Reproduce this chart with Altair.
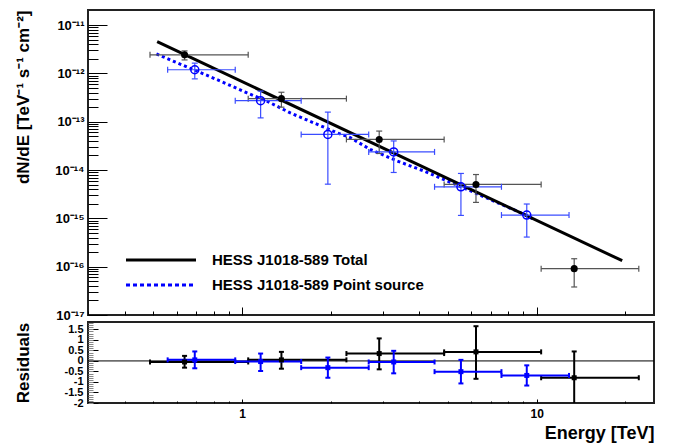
import json
import altair as alt
import pandas as pd

# HESS J1018-589 total: flux points (black)
e_tot = [0.638, 1.36, 2.92, 6.22, 13.4]
e_tot_lo = [0.487, 1.049, 2.26, 4.85, 10.35]
e_tot_hi = [1.049, 2.26, 4.85, 10.35, 22.2]
f_tot = [2.42e-12, 3.0e-13, 4.3e-14, 5.03e-15, 9.1e-17]
f_tot_lo = [1.9e-12, 2.0e-13, 2.2e-14, 2.14e-15, 3.8e-17]
f_tot_hi = [2.92e-12, 4.07e-13, 6.4e-14, 8.07e-15, 1.46e-16]
r_tot = [-0.05, 0.05, 0.35, 0.43, -0.80]
r_tot_lo = [-0.32, -0.37, -0.40, -0.85, -2.1]
r_tot_hi = [0.24, 0.43, 1.07, 1.65, 0.45]

# HESS J1018-589 point source: flux points (blue)
e_ps = [0.691, 1.156, 1.955, 3.27, 5.53, 9.25]
e_ps_lo = [0.559, 0.948, 1.587, 2.69, 4.50, 7.59]
e_ps_hi = [0.948, 1.587, 2.69, 4.50, 7.59, 12.87]
f_ps = [1.19e-12, 2.73e-13, 5.46e-14, 2.37e-14, 4.5e-15, 1.17e-15]
f_ps_lo = [7.7e-13, 1.2e-13, 5.1e-15, 8.9e-15, 1.15e-15, 4.1e-16]
f_ps_hi = [1.63e-12, 4.3e-13, 1.58e-13, 4.0e-14, 8.5e-15, 1.98e-15]
r_ps = [0.05, -0.03, -0.32, -0.05, -0.51, -0.69]
r_ps_lo = [-0.35, -0.48, -0.80, -0.59, -1.07, -1.17]
r_ps_hi = [0.45, 0.35, 0.16, 0.48, 0.05, -0.21]

# fitted spectra
fit_tot_e = [0.515, 19.5]
fit_tot_f = [4.55e-12, 1.33e-16]
fit_ps_e = [0.512, 0.586, 0.761, 0.889, 1.04, 1.215, 1.458, 1.748, 2.10, 2.33,
            2.72, 3.35, 4.13, 4.95, 5.94, 7.32, 9.01, 9.74]
fit_ps_f = [2.53e-12, 1.77e-12, 9.1e-13, 6.03e-13, 3.94e-13, 2.66e-13, 1.52e-13,
            9.5e-14, 5.9e-14, 4.67e-14, 2.68e-14, 1.55e-14, 9.6e-15, 6.0e-15,
            3.73e-15, 2.14e-15, 1.23e-15, 9.7e-16]

legend_labels = ["HESS J1018-589 Total", "HESS J1018-589 Point source"]

# axis ticks
x_major = [1, 10]
x_minor = [0.3, 0.4, 0.5, 0.6, 0.7, 0.8, 0.9, 2, 3, 4, 5, 6, 7, 8, 9, 20]
y_major = [1e-17, 1e-16, 1e-15, 1e-14, 1e-13, 1e-12, 1e-11]
y_major_labels = ["10⁻¹⁷", "10⁻¹⁶", "10⁻¹⁵", "10⁻¹⁴", "10⁻¹³", "10⁻¹²", "10⁻¹¹"]
y_minor = [m * d for d in y_major[:-1] for m in range(2, 10)]
r_major = [-2, -1.5, -1, -0.5, 0, 0.5, 1, 1.5]
r_minor = [round(-2 + 0.1 * i, 1) for i in range(39)]

BLUE = "#0000ff"
BLUE_ERR = "#3a4cff"
GREY = "#555555"
FONT = "Liberation Sans"

tot = pd.DataFrame({"e": e_tot, "elo": e_tot_lo, "ehi": e_tot_hi,
                    "f": f_tot, "flo": f_tot_lo, "fhi": f_tot_hi,
                    "r": r_tot, "rlo": r_tot_lo, "rhi": r_tot_hi})
ps = pd.DataFrame({"e": e_ps, "elo": e_ps_lo, "ehi": e_ps_hi,
                   "f": f_ps, "flo": f_ps_lo, "fhi": f_ps_hi,
                   "r": r_ps, "rlo": r_ps_lo, "rhi": r_ps_hi})
fit_tot = pd.DataFrame({"e": fit_tot_e, "f": fit_tot_f})
fit_ps = pd.DataFrame({"e": fit_ps_e, "f": fit_ps_f})

xs = alt.Scale(type="log", domain=[0.3, 25], nice=False)
ys = alt.Scale(type="log", domain=[1e-17, 2.05e-11], nice=False)
rs = alt.Scale(domain=[-2, 1.85], nice=False, zero=False)


def inner_axis(values, size, orient, color="black", **kw):
    # ROOT style: ticks inside the frame, so shift the axis in by the tick length
    return alt.Axis(values=values, tickSize=size, offset=-size, orient=orient,
                    domain=False, grid=False, tickColor=color,
                    labelOverlap=False, labelFlush=False, labelBound=False, **kw)


def error_bars(df, y, ylo, yhi, yscale, color, width, cap, clip=False):
    base = alt.Chart(df)
    X = lambda f: alt.X(f, scale=xs, axis=None)
    Y = lambda f: alt.Y(f, scale=yscale, axis=None)
    rule = dict(color=color, strokeWidth=width, clip=clip)
    tick = dict(color=color, size=cap, thickness=width, clip=clip, opacity=1)
    return [
        base.mark_rule(**rule).encode(x=X("elo:Q"), x2="ehi:Q", y=Y(y)),
        base.mark_rule(**rule).encode(x=X("e:Q"), y=Y(ylo), y2=yhi),
        base.mark_tick(orient="vertical", **tick).encode(x=X("elo:Q"), y=Y(y)),
        base.mark_tick(orient="vertical", **tick).encode(x=X("ehi:Q"), y=Y(y)),
        base.mark_tick(orient="horizontal", **tick).encode(x=X("e:Q"), y=Y(ylo)),
        base.mark_tick(orient="horizontal", **tick).encode(x=X("e:Q"), y=Y(yhi)),
    ]


# ---- spectrum panel ----
line_ps = alt.Chart(fit_ps).mark_line(color=BLUE, strokeWidth=3, strokeDash=[3, 3]).encode(
    x=alt.X("e:Q", scale=xs, axis=None), y=alt.Y("f:Q", scale=ys, axis=None))
line_tot = alt.Chart(fit_tot).mark_line(color="black", strokeWidth=3).encode(
    x=alt.X("e:Q", scale=xs, axis=None), y=alt.Y("f:Q", scale=ys, axis=None))
pts_tot = alt.Chart(tot).mark_point(shape="circle", filled=True, size=50, color="black", opacity=1).encode(
    x=alt.X("e:Q", scale=xs, axis=None), y=alt.Y("f:Q", scale=ys, axis=None))
pts_ps = alt.Chart(ps).mark_point(shape="circle", filled=False, size=64, color=BLUE, strokeWidth=1.5, opacity=1).encode(
    x=alt.X("e:Q", scale=xs, axis=None), y=alt.Y("f:Q", scale=ys, axis=None))

label_expr = "%s[round(log(datum.value)/LN10)+17]" % json.dumps(y_major_labels, ensure_ascii=False)
top_major = alt.Chart(tot).mark_point(opacity=0).encode(
    x=alt.X("e:Q", scale=xs, title=None, axis=inner_axis(x_major, 8, "bottom", labels=False)),
    y=alt.Y("f:Q", scale=ys, title="dN/dE [TeV⁻¹ s⁻¹ cm⁻²]",
            axis=inner_axis(y_major, 19, "left", labelExpr=label_expr, labelPadding=4,
                            labelFontSize=13, titleAnchor="end", titleFontSize=17, titlePadding=22)))
top_minor = alt.Chart(tot).mark_point(opacity=0).encode(
    x=alt.X("e:Q", scale=xs, title=None, axis=inner_axis(x_minor, 4, "bottom", labels=False)),
    y=alt.Y("f:Q", scale=ys, title=None, axis=inner_axis(y_minor, 10, "left", labels=False)))

one = pd.DataFrame({"label": legend_labels[:1]})
two = pd.DataFrame({"label": legend_labels[1:]})
leg = [
    alt.Chart(one).mark_rule(color="black", strokeWidth=3).encode(
        x=alt.value(38), x2=alt.value(108), y=alt.value(250)),
    alt.Chart(two).mark_rule(color=BLUE, strokeWidth=3, strokeDash=[4, 3]).encode(
        x=alt.value(38), x2=alt.value(108), y=alt.value(275)),
    alt.Chart(one).mark_text(align="left", baseline="middle", font=FONT, fontSize=15, fontWeight="bold").encode(
        x=alt.value(124), y=alt.value(250), text="label:N"),
    alt.Chart(two).mark_text(align="left", baseline="middle", font=FONT, fontSize=15, fontWeight="bold").encode(
        x=alt.value(124), y=alt.value(275), text="label:N"),
]

top = alt.layer(
    line_ps, line_tot,
    *error_bars(tot, "f:Q", "flo:Q", "fhi:Q", ys, GREY, 1.2, 6),
    *error_bars(ps, "f:Q", "flo:Q", "fhi:Q", ys, BLUE_ERR, 1.2, 6),
    pts_tot, pts_ps, top_major, top_minor, *leg
).resolve_axis(x="independent", y="independent").properties(width=566, height=305)

# ---- residual panel ----
zero = alt.Chart(one).mark_rule(color="black", strokeWidth=1).encode(
    y=alt.Y(datum=0, scale=rs, axis=None))
res_tot = alt.Chart(tot).mark_point(shape="square", filled=True, size=25, color="black", opacity=1).encode(
    x=alt.X("e:Q", scale=xs, axis=None), y=alt.Y("r:Q", scale=rs, axis=None))
res_ps = alt.Chart(ps).mark_point(shape="square", filled=True, size=25, color=BLUE, opacity=1).encode(
    x=alt.X("e:Q", scale=xs, axis=None), y=alt.Y("r:Q", scale=rs, axis=None))

bot_major = alt.Chart(tot).mark_point(opacity=0).encode(
    x=alt.X("e:Q", scale=xs, title="Energy [TeV]",
            axis=inner_axis(x_major, 4, "bottom", labelExpr="'' + datum.value", labelPadding=5,
                            titleAnchor="end", titleFontSize=18, titlePadding=5)),
    y=alt.Y("r:Q", scale=rs, title="Residuals",
            axis=inner_axis(r_major, 10, "left", labelExpr="'' + datum.value", labelPadding=5,
                            labelFontSize=11, titleFontSize=17, titlePadding=32)))
bot_minor = alt.Chart(tot).mark_point(opacity=0).encode(
    x=alt.X("e:Q", scale=xs, title=None, axis=inner_axis(x_minor, 2, "bottom", labels=False)),
    y=alt.Y("r:Q", scale=rs, title=None, axis=inner_axis(r_minor, 5, "left", color="#888888", labels=False)))

bottom = alt.layer(
    zero,
    *error_bars(tot, "r:Q", "rlo:Q", "rhi:Q", rs, "black", 2, 5, clip=True),
    *error_bars(ps, "r:Q", "rlo:Q", "rhi:Q", rs, BLUE, 2, 5, clip=True),
    res_tot, res_ps, bot_major, bot_minor
).resolve_axis(x="independent", y="independent").properties(width=566, height=81)

chart = alt.vconcat(top, bottom, spacing=7, bounds="flush").properties(
    padding={"left": 5, "right": 5, "top": 0, "bottom": 0}
).configure_view(
    stroke="#222222", strokeWidth=2
).configure_axis(
    labelFont=FONT, labelFontWeight="bold", labelFontSize=12, labelColor="black",
    titleFont=FONT, titleFontWeight="bold", titleColor="black"
)

chart.save("out.html", embed_options={"renderer": "svg", "actions": False})
